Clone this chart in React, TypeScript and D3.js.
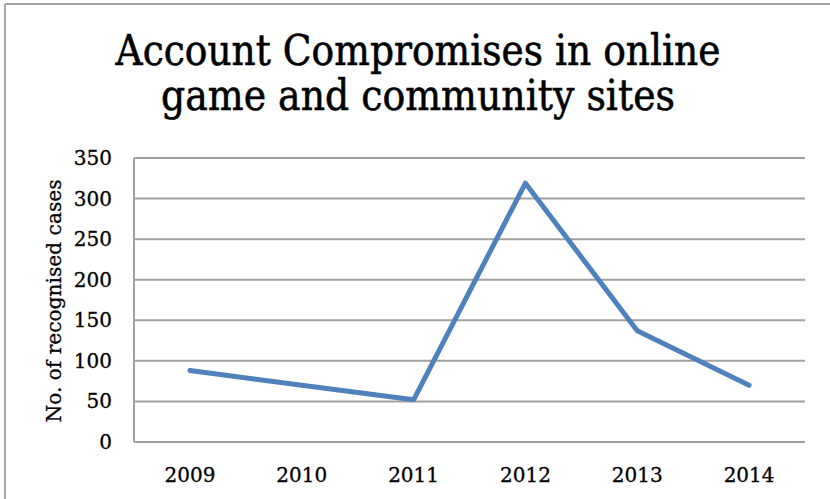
import React from "react";
import * as d3 from "d3";

const years = ["2009", "2010", "2011", "2012", "2013", "2014"];
const cases = [88, 70, 52, 319, 137, 70];
const yTicks = [0, 50, 100, 150, 200, 250, 300, 350];
const titleLines = ["Account Compromises in online", "game and community sites"];
const yAxisTitle = "No. of recognised cases";

export default function App() {
  const W = 830, H = 499;
  const left = 134, right = 805, top = 158, bottom = 442;
  const x = d3.scaleBand<string>().domain(years).range([left, right]);
  const y = d3.scaleLinear().domain([0, 350]).range([bottom, top]);
  const line = d3.line<number>()
    .x((_, i) => (x(years[i]) as number) + x.bandwidth() / 2)
    .y((d) => y(d));
  const serif = "'DejaVu Serif', 'Liberation Serif', serif";
  return (
    <svg width={W} height={H} style={{ position: "absolute", left: 0, top: 0, background: "#fff" }}>
      <line x1={5} y1={4} x2={W} y2={4} stroke="#a6a6a6" strokeWidth={2} />
      <line x1={5} y1={4} x2={5} y2={H} stroke="#a6a6a6" strokeWidth={2} />
      <g fontFamily={serif} fill="#000" stroke="#000" strokeWidth={0.6}>
        <text x={418} y={65} textAnchor="middle" fontSize={42}
          textLength={605} lengthAdjust="spacingAndGlyphs">{titleLines[0]}</text>
        <text x={418} y={110} textAnchor="middle" fontSize={42}
          textLength={514} lengthAdjust="spacingAndGlyphs">{titleLines[1]}</text>
      </g>
      {yTicks.map((t) => (
        <g key={t}>
          <line x1={left} x2={right} y1={y(t)} y2={y(t)} stroke="#a0a0a0" strokeWidth={2} />
          <text x={112} y={y(t) + 7} textAnchor="end" fontFamily={serif} fontSize={20} fill="#000"
            stroke="#000" strokeWidth={0.3}>{t}</text>
        </g>
      ))}
      <line x1={left} x2={left} y1={top} y2={bottom} stroke="#a0a0a0" strokeWidth={2} />
      {years.map((yr) => (
        <text key={yr} x={(x(yr) as number) + x.bandwidth() / 2} y={482} textAnchor="middle"
          fontFamily={serif} fontSize={20} fill="#000" stroke="#000" strokeWidth={0.3}>{yr}</text>
      ))}
      <text transform={`translate(61,301) rotate(-90)`} textAnchor="middle" fontFamily={serif}
        fontSize={20} fill="#000" stroke="#000" strokeWidth={0.3}
        textLength={243} lengthAdjust="spacingAndGlyphs">{yAxisTitle}</text>
      <path d={line(cases) as string} fill="none" stroke="#4f81bd" strokeWidth={5}
        strokeLinejoin="round" strokeLinecap="round" />
    </svg>
  );
}
